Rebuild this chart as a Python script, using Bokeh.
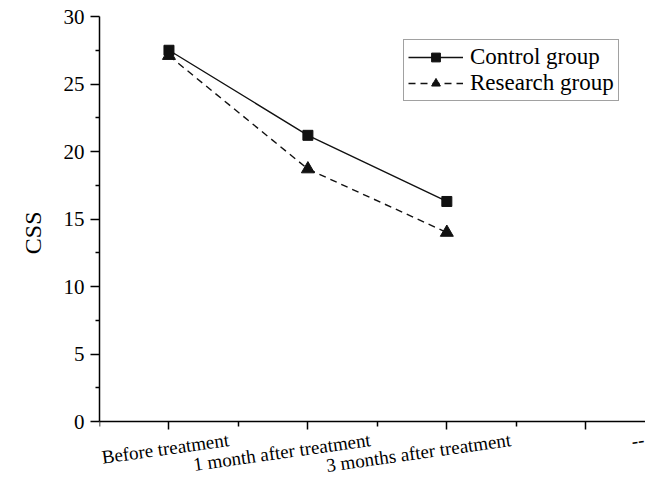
from bokeh.plotting import figure
from bokeh.models import Range1d, FixedTicker, LinearAxis, Legend, LegendItem, Title
from bokeh.embed import file_html
from bokeh.resources import INLINE

# ---- data ----
categories = ["Before treatment", "1 month after treatment", "3 months after treatment", "--"]
x_pos = [1, 2, 3, 4]
control_group = [27.5, 21.2, 16.3]
research_group = [27.1, 18.7, 14.0]
y_ticks = [0, 5, 10, 15, 20, 25, 30]
y_minor = [2.5, 7.5, 12.5, 17.5, 22.5, 27.5]
x_minor = [0.5, 1.5, 2.5, 3.5, 4.5]
y_title = "CSS"

FONT = "Liberation Serif"

# frame: canvas y=16 (y=30) down to the figure bottom; y=0 sits near canvas y=421
p = figure(width=645, height=481, x_range=Range1d(0.5, 4.43), y_range=Range1d(-4.44, 30),
           output_backend="svg", toolbar_location=None,
           min_border_top=16, min_border_right=0, min_border_bottom=0, min_border_left=99)
p.outline_line_color = None
p.xgrid.visible = False
p.ygrid.visible = False
p.background_fill_color = "white"
p.border_fill_color = "white"

# y axis
ya = p.yaxis[0]
ya.bounds = (0, 30)
ya.ticker = FixedTicker(ticks=y_ticks, minor_ticks=y_minor)
ya.major_label_text_font = FONT
ya.major_label_text_font_size = "21px"
ya.major_label_text_color = "black"
ya.major_label_standoff = 6
ya.axis_line_width = 1.5
ya.axis_line_color = "black"
ya.major_tick_in = 0
ya.major_tick_out = 9
ya.minor_tick_in = 0
ya.minor_tick_out = 4
ya.major_tick_line_width = 1.5
ya.minor_tick_line_width = 1.5
ya.major_tick_line_color = "black"
ya.minor_tick_line_color = "black"

# y axis title, centred on the 0..30 span rather than on the whole frame
p.add_layout(Title(text=y_title, align="right", offset=195, standoff=30,
                   text_font=FONT, text_font_size="24px", text_font_style="normal",
                   text_color="black"), "left")

# x axis (line + ticks) fixed at y = 0
xa = p.xaxis[0]
xa.fixed_location = 0
xa.ticker = FixedTicker(ticks=x_pos, minor_ticks=x_minor)
xa.major_label_overrides = {x: "" for x in x_pos}
xa.major_label_text_font_size = "1px"
xa.axis_line_width = 1.5
xa.axis_line_color = "black"
xa.major_tick_in = 0
xa.major_tick_out = 8
xa.minor_tick_in = 0
xa.minor_tick_out = 5
xa.major_tick_line_width = 1.5
xa.minor_tick_line_width = 1.5
xa.major_tick_line_color = "black"
xa.minor_tick_line_color = "black"

# category labels: rotated, right-aligned a little to the right of each tick
label_shift = [0.43, 0.45, 0.46, 0.425]
anchors = [x + s for x, s in zip(x_pos, label_shift)]
la = LinearAxis(fixed_location=0,
                ticker=FixedTicker(ticks=anchors, minor_ticks=[]),
                major_label_overrides={a: c for a, c in zip(anchors, categories)},
                major_label_orientation=0.14,
                major_label_text_font=FONT, major_label_text_font_size="19px",
                major_label_text_color="black", major_label_standoff=18,
                axis_line_color=None, major_tick_line_color=None, minor_tick_line_color=None,
                major_tick_in=0, major_tick_out=0, minor_tick_in=0, minor_tick_out=0)
p.add_layout(la, "below")

# series
n = len(control_group)
l1 = p.line(x_pos[:n], control_group, line_color="#111111", line_width=1.4)
s1 = p.scatter(x_pos[:n], control_group, marker="square", size=10,
               fill_color="#111111", line_color="#111111")
l2 = p.line(x_pos[:n], research_group, line_color="#111111", line_width=1.4, line_dash="7 5")
s2 = p.scatter(x_pos[:n], research_group, marker="triangle", size=13,
               fill_color="#111111", line_color="#111111")

legend = Legend(items=[LegendItem(label="Control group", renderers=[l1, s1]),
                       LegendItem(label="Research group", renderers=[l2, s2])],
                location=(304, 380))
legend.label_text_font = FONT
legend.label_text_font_size = "23px"
legend.label_text_color = "black"
legend.glyph_width = 55
legend.glyph_height = 22
legend.spacing = 0
legend.padding = 4
legend.label_standoff = 7
legend.border_line_color = "#444444"
legend.border_line_width = 1
legend.background_fill_alpha = 1
legend.margin = 0
p.add_layout(legend)

open("out.html", "w").write(file_html(p, INLINE))
